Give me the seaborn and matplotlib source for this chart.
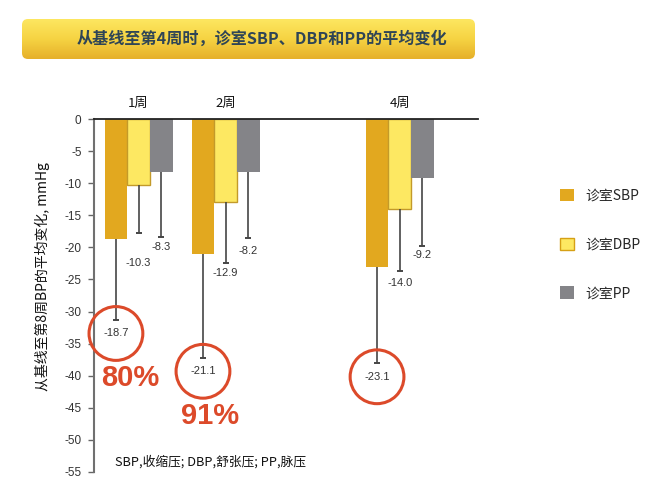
import matplotlib.pyplot as plt
import matplotlib.transforms as mtransforms
import numpy as np
import pandas as pd
import seaborn as sns
from matplotlib.colors import LinearSegmentedColormap
from matplotlib.patches import FancyBboxPatch, Patch

# Data (mean change from baseline, mmHg)
weeks = [1, 2, 4]
week_labels = ['1周', '2周', '4周']
measures = ['诊室SBP', '诊室DBP', '诊室PP']
sbp_change = [-18.7, -21.1, -23.1]
dbp_change = [-10.3, -12.9, -14.0]
pp_change = [-8.3, -8.2, -9.2]
sbp_err = [12.7, 16.2, 14.9]
dbp_err = [7.4, 9.6, 9.7]
pp_err = [10.0, 10.3, 10.6]
pct_labels = ['80%', '91%', '']

title = '从基线至第4周时，诊室SBP、DBP和PP的平均变化'
ylabel = '从基线至第8周BP的平均变化, mmHg'
footnote = 'SBP,收缩压; DBP,舒张压; PP,脉压'

colors = ['#e2a81f', '#fde862', '#848488']
red = '#dc4a2a'
cjk = ['Noto Sans CJK SC', 'DejaVu Sans']

df = pd.DataFrame({
    'week': weeks * 3,
    'measure': np.repeat(measures, 3),
    'change': sbp_change + dbp_change + pp_change,
    'err': sbp_err + dbp_err + pp_err,
})

sns.set_style('white')
plt.rcParams['font.family'] = ['Liberation Sans', 'Noto Sans CJK SC']

fig = plt.figure(figsize=(6.61, 4.84), dpi=100)
W, H = 661, 484

# Title banner with a yellow gradient
bax = fig.add_axes([22 / W, 1 - 59 / H, 453 / W, 40 / H])
bax.set_xlim(0, 453)
bax.set_ylim(0, 40)
bax.axis('off')
grad = np.linspace(0, 1, 100).reshape(-1, 1)
cmap = LinearSegmentedColormap.from_list('banner', ['#fde862', '#f6d443', '#e6b02a'])
img = bax.imshow(grad, extent=[0, 453, 0, 40], aspect='auto', cmap=cmap, origin='upper')
box = FancyBboxPatch((0, 0), 453, 40, boxstyle='round,pad=0,rounding_size=6',
                     facecolor='none', edgecolor='none', transform=bax.transData)
bax.add_patch(box)
img.set_clip_path(box)
bax.text(240, 20, title, ha='center', va='center', fontsize=11.6, fontweight='bold',
         color='#2f4556', family=cjk)

# Main chart
ax = fig.add_axes([94 / W, 1 - 471.7 / H, 384 / W, 352.4 / H])
sns.barplot(data=df, x='week', y='change', hue='measure', hue_order=measures,
            palette=colors, native_scale=True, width=0.78, errorbar=None,
            saturation=1, legend=False, ax=ax)

label_offsets = [[13, 13, 14], [30, 10, 12], [10, 13, 9]]
bar_groups = list(ax.containers)
for i, cont in enumerate(bar_groups):
    sub = df[df['measure'] == measures[i]]
    for j, bar in enumerate(cont):
        bar.set_linewidth(0)
        if i == 1:
            bar.set_edgecolor('#c39a2a')
            bar.set_linewidth(1.0)
        xc = bar.get_x() + bar.get_width() / 2
        m = sub['change'].iloc[j]
        e = sub['err'].iloc[j]
        eb = ax.errorbar(xc, m, yerr=[[e], [0]], fmt='none', ecolor='#454545',
                         elinewidth=1.2, capsize=2.5, capthick=1.4, zorder=4)
        # only keep the lower cap
        eb[1][1].set_visible(False)
        off = label_offsets[i][j]
        ax.annotate(f'{m:.1f}', (xc, m - e), xytext=(0, -off),
                    textcoords='offset pixels', ha='center', va='center',
                    fontsize=8, color='#333333')
        if i == 0:
            shift = mtransforms.ScaledTranslation(0, -off / fig.dpi, fig.dpi_scale_trans)
            ax.scatter([xc], [m - e], s=1500, facecolors='none', edgecolors=red,
                       linewidths=2.2, clip_on=False, zorder=5,
                       transform=ax.transData + shift)
            if pct_labels[j]:
                ax.annotate(pct_labels[j], (xc, m - e), xytext=(14 - 7 * j, -off - 45),
                            textcoords='offset pixels', ha='center', va='center',
                            fontsize=21, fontweight='bold', color=red,
                            annotation_clip=False)

for wk, lab in zip(weeks, week_labels):
    ax.annotate(lab, (wk, 0), xytext=(0, 9), textcoords='offset pixels',
                ha='center', va='bottom', fontsize=9.5, color='#111111',
                annotation_clip=False, family=cjk)

ax.set_xlim(0.488, 4.9)
ax.set_ylim(-55, 0)
ax.set_yticks(np.arange(0, -56, -5))
ax.set_yticklabels([f'{v}' for v in np.arange(0, -56, -5)])
ax.set_xticks([])
ax.set_xlabel('')
ax.set_ylabel(ylabel, fontsize=10, family=cjk, color='#111111')
ax.yaxis.set_label_coords(-0.115, 0.555)
ax.tick_params(axis='y', left=True, length=4, width=1, color='#666666',
               labelsize=8.5, labelcolor='#333333', pad=5)
for s in ['right', 'bottom']:
    ax.spines[s].set_visible(False)
ax.spines['left'].set_color('#707070')
ax.spines['left'].set_linewidth(1.5)
ax.spines['top'].set_color('#222222')
ax.spines['top'].set_linewidth(1.3)
ax.set_facecolor('none')

# Legend
handles = [Patch(facecolor=colors[0], edgecolor='none'),
           Patch(facecolor=colors[1], edgecolor='#d6a015', linewidth=1.0),
           Patch(facecolor=colors[2], edgecolor='none')]
leg = fig.legend(handles, measures, loc='upper left', bbox_to_anchor=(560 / W, 1 - 189 / H),
                 frameon=False, borderpad=0, borderaxespad=0, labelspacing=2.5,
                 handlelength=1.0, handleheight=1.0, handletextpad=0.85,
                 prop={'family': cjk, 'size': 10})

fig.text(115 / W, 1 - 462 / H, footnote, ha='left', va='center', fontsize=9.2,
         family=cjk, color='#111111')

fig.savefig('out.png', dpi=100)
